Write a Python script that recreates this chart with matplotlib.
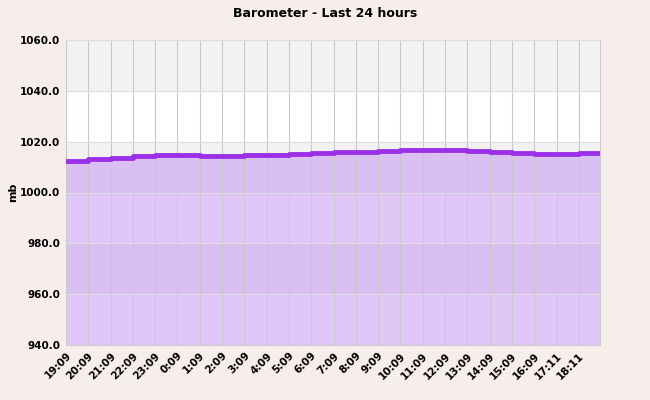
import matplotlib
matplotlib.use("Agg")
import matplotlib.pyplot as plt
import numpy as np

LABELS = ["19:09", "20:09", "21:09", "22:09", "23:09", "0:09", "1:09", "2:09", "3:09",
          "4:09", "5:09", "6:09", "7:09", "8:09", "9:09", "10:09", "11:09", "12:09",
          "13:09", "14:09", "15:09", "16:09", "17:11", "18:11"]
PRESSURE = [1012.5, 1013.2, 1013.7, 1014.2, 1014.6, 1014.6, 1014.2, 1014.5, 1014.6,
            1014.9, 1015.3, 1015.4, 1015.8, 1016.1, 1016.3, 1016.8, 1016.9, 1016.6,
            1016.5, 1016.0, 1015.4, 1015.3, 1015.0, 1015.4]

BG = "#f7eeec"
LINE = "#9b30e8"
FILL = "#c48ef2"

fig = plt.figure(figsize=(6.5, 4.0), dpi=100, facecolor=BG)
ax = fig.add_axes([66 / 650, 55 / 400, 534 / 650, 305 / 400])

# alternating horizontal bands
for lo in range(940, 1060, 20):
    shade = "#f2f2f2" if ((lo - 940) // 20) % 2 == 1 else "white"
    ax.axhspan(lo, lo + 20, color=shade, zorder=0)

x = np.arange(len(PRESSURE) + 1)
y = PRESSURE + [PRESSURE[-1]]
ax.fill_between(x, y, 940, step="post", color=FILL, alpha=0.5, zorder=1, linewidth=0)
ax.step(x, y, where="post", color=LINE, linewidth=3.5, zorder=3)

ax.set_xlim(0, 23.95)
ax.set_ylim(940, 1060)
ax.set_yticks(np.arange(940, 1061, 20))
ax.set_yticklabels([f"{v:.1f}" for v in range(940, 1061, 20)], fontsize=7.5, fontweight="bold")
ax.set_xticks(np.arange(len(LABELS)))
ax.set_xticklabels(LABELS, rotation=45, ha="right", rotation_mode="anchor",
                   fontsize=7.5, fontweight="bold")
ax.grid(axis="x", color="#c8c8c8", linewidth=0.8, zorder=2)
ax.grid(axis="y", color="#dddddd", linewidth=0.8, zorder=2)
ax.set_axisbelow(False)
ax.tick_params(length=0, pad=4)
for s in ax.spines.values():
    s.set_color("#cccccc")
fig.text(13 / 650, 0.52, "mb", rotation=90, ha="center", va="center",
         fontsize=8, fontweight="bold")
fig.text(0.5, 0.967, "Barometer - Last 24 hours", ha="center", va="center",
         fontsize=9, fontweight="bold")

fig.savefig("out.png", dpi=100, facecolor=BG)
